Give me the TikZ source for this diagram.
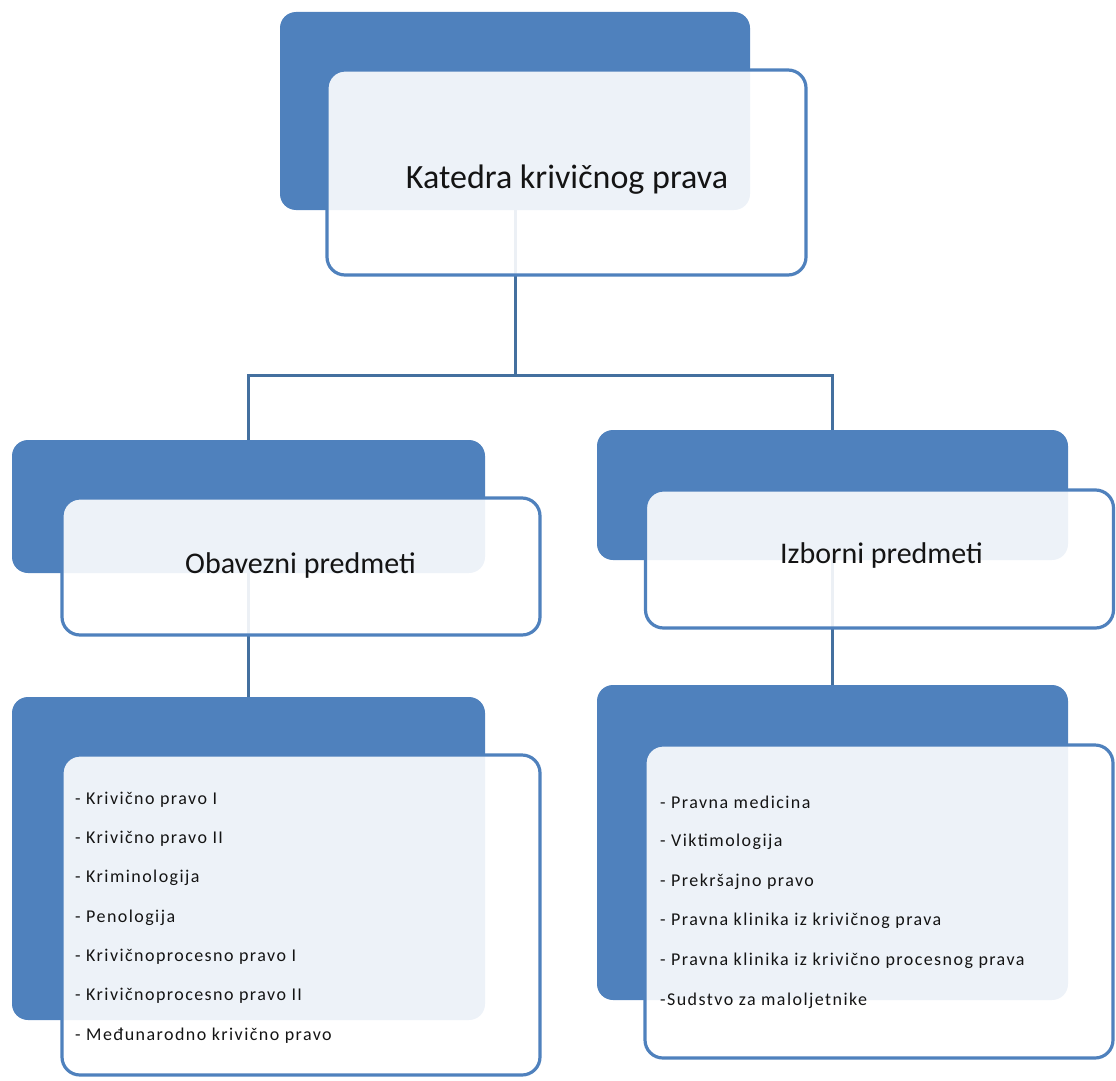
\documentclass[tikz,border=0pt]{standalone}
\usepackage{fontspec}
\setmainfont{Carlito}
\newfontfamily\itemfont[LetterSpace=8]{Carlito}
\definecolor{boxblue}{HTML}{4F81BD}
\definecolor{lineblue}{HTML}{44709F}
\definecolor{txt}{HTML}{141414}
\begin{document}
\begin{tikzpicture}[x=1pt,y=-1pt,
  back/.style={draw=none, fill=boxblue, rounded corners=16pt, inner sep=0pt},
  front/.style={draw=boxblue, line width=3.2pt, fill=white, fill opacity=0.9, rounded corners=18pt, inner sep=0pt},
  conn/.style={draw=lineblue, line width=3pt},
  head/.style={font=\fontsize{30}{34}\selectfont, text=txt, inner sep=0pt},
  item/.style={font=\itemfont\fontsize{18}{22}\selectfont, text=txt, anchor=west, inner sep=0pt}
]
\useasboundingbox (0,0) rectangle (1116,1081);
% back boxes
\node[back, minimum width=470pt, minimum height=198pt] (topback) at (515,111) {};
\node[back, minimum width=473pt, minimum height=133pt] (lback) at (248.5,506.5) {};
\node[back, minimum width=471pt, minimum height=130pt] (rback) at (832.5,495) {};
\node[back, minimum width=473pt, minimum height=323pt] (lbback) at (248.5,858.5) {};
\node[back, minimum width=471pt, minimum height=315pt] (rbback) at (832.5,842.5) {};
% connectors
\coordinate (j) at (515,375);
\draw[conn] (topback.south) -- (j);
\draw[conn] (lback.north) |- (j) -| (rback.north);
\draw[conn] (lback.south) -- (lbback.north);
\draw[conn] (rback.south) -- (rbback.north);
% front boxes
\node[front, minimum width=479pt, minimum height=205pt] (topfront) at (566.5,172.5) {};
\node[front, minimum width=478pt, minimum height=137pt] (lfront) at (301,566.5) {};
\node[front, minimum width=468pt, minimum height=138pt] (rfront) at (879.5,559) {};
\node[front, minimum width=478pt, minimum height=320pt] (lbfront) at (301,915) {};
\node[front, minimum width=468pt, minimum height=313pt] (rbfront) at (879,901.5) {};
% headings
\node[head, font=\fontsize{34}{38}\selectfont] (t1) at (567,180) {Katedra krivičnog prava};
\node[head] (t2) at (300.5,565) {Obavezni predmeti};
\node[head] (t3) at (881.5,555) {Izborni predmeti};
% left list
\node[item] (l1) at (75,800) {- Krivično pravo I};
\node[item] (l2) at (75,839) {- Krivično pravo II};
\node[item] (l3) at (75,878) {- Kriminologija};
\node[item] (l4) at (75,918) {- Penologija};
\node[item] (l5) at (75,957) {- Krivičnoprocesno pravo I};
\node[item] (l6) at (75,996) {- Krivičnoprocesno pravo II};
\node[item] (l7) at (75,1036) {- Međunarodno krivično pravo};
% right list
\node[item] (r1) at (660,802) {- Pravna medicina};
\node[item] (r2) at (660,842) {- Viktimologija};
\node[item] (r3) at (660,882) {- Prekršajno pravo};
\node[item] (r4) at (660,921) {- Pravna klinika iz krivičnog prava};
\node[item] (r5) at (660,961) {- Pravna klinika iz krivično procesnog prava};
\node[item] (r6) at (660,1001) {-Sudstvo za maloljetnike};
\end{tikzpicture}
\end{document}
